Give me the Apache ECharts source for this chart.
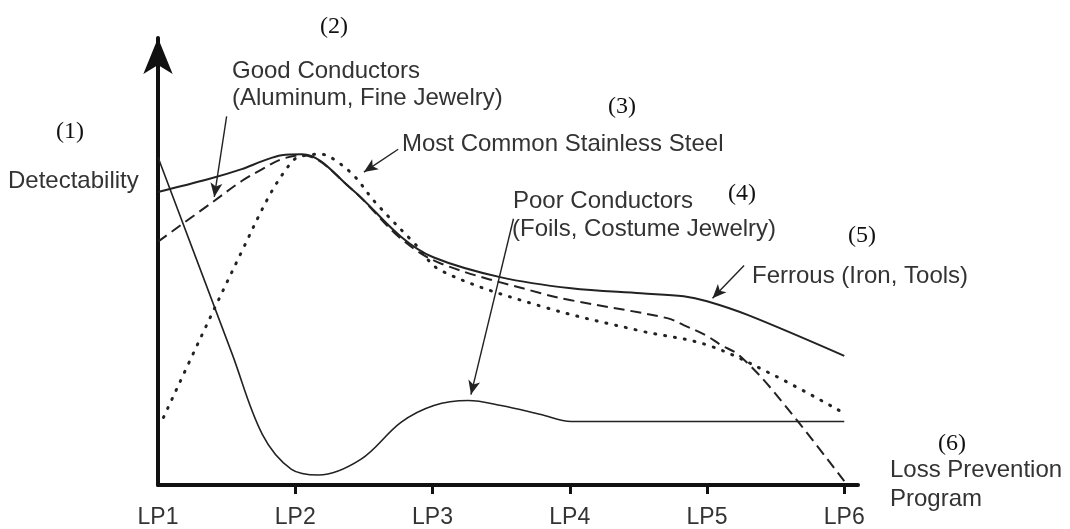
<!DOCTYPE html>
<html>
<head>
<meta charset="utf-8">
<script src="https://cdn.jsdelivr.net/npm/echarts@6/dist/echarts.min.js"></script>
<style>
  html, body { margin: 0; padding: 0; background: #fff; }
  #chart { width: 1070px; height: 529px; }
</style>
</head>
<body>
<div id="chart"></div>
<script>
// x: 0 = LP1 ... 5 = LP6, y: detectability (arbitrary units)
const tickLabels = ['LP1', 'LP2', 'LP3', 'LP4', 'LP5', 'LP6'];

const ferrous = [[0, 295], [0.37, 308], [0.61, 318], [0.76, 326], [0.9, 332], [1.05, 333], [1.41, 298],
    [1.77, 250], [2.01, 229], [2.5, 209], [3.01, 198], [3.52, 193], [3.83, 190], [4.0, 185], [4.3, 171], [5.0, 130]];
const goodConductors = [[0, 245], [0.39, 284], [0.61, 306], [0.76, 318], [0.9, 328], [1.05, 332],
    [1.41, 298], [1.77, 248], [2.06, 223], [2.79, 193], [3.01, 186], [3.71, 168], [3.83, 161], [4.0, 150],
    [4.1, 141], [4.23, 131], [4.48, 95], [5.0, 4]];
const stainless = [[0.04, 68], [0.32, 151], [0.61, 235], [0.81, 291], [0.95, 321], [1.02, 330], [1.19, 333],
    [1.28, 328], [1.43, 311], [1.58, 285], [1.87, 243], [2.06, 216], [2.79, 180], [3.52, 155], [4.0, 141],
    [4.48, 111], [4.99, 73]];
const poorConductors = [[0, 330], [0.54, 132], [0.76, 51], [0.97, 16], [1.17, 10], [1.48, 26], [1.77, 63],
    [2.01, 80], [2.26, 85], [2.5, 80], [2.79, 71], [3.01, 64], [5.0, 64]];

// annotation arrows: [from, to] in data units
const arrowGood = [[0.50, 371], [0.41, 290]];
const arrowStainless = [[1.75, 338], [1.50, 315]];
const arrowPoor = [[2.59, 268], [2.28, 91]];
const arrowFerrous = [[4.27, 221], [4.04, 188]];

const chart = echarts.init(document.getElementById('chart'));

const ink = '#222';
const sans = '"Liberation Sans", Arial, sans-serif';
const serif = '"Liberation Serif", "Times New Roman", serif';

function arrow(pair) {
    return {
        silent: true,
        symbol: ['none', 'arrow'],
        symbolSize: [9, 14],
        label: { show: false },
        lineStyle: { color: ink, width: 1.4, type: 'solid' },
        animation: false,
        data: [[{ coord: pair[0] }, { coord: pair[1] }]]
    };
}

function note(text, x, y, opts) {
    opts = opts || {};
    return {
        type: 'text',
        x: x,
        y: y,
        silent: true,
        style: {
            text: text,
            font: opts.font || ('24px ' + sans),
            fill: opts.fill || '#333',
            align: opts.align || 'left',
            verticalAlign: 'middle'
        }
    };
}

const num = { font: '24px ' + serif, fill: '#111', align: 'center' };

chart.setOption({
    backgroundColor: '#fff',
    animation: false,
    grid: { left: 158, right: 212, top: 38, bottom: 41 },
    xAxis: {
        type: 'value',
        min: 0,
        max: 5.1,
        interval: 1,
        splitLine: { show: false },
        axisLine: { lineStyle: { color: '#111', width: 4 } },
        axisTick: {
            customValues: [1, 2, 3, 4, 5],
            length: 9,
            lineStyle: { color: '#111', width: 3 }
        },
        axisLabel: {
            customValues: [0, 1, 2, 3, 4, 5],
            margin: 21,
            color: '#333',
            fontFamily: sans,
            fontSize: 23,
            formatter: v => tickLabels[Math.round(v)]
        },
        name: 'Loss Prevention\nProgram',
        nameLocation: 'end',
        nameGap: 32,
        nameTextStyle: {
            color: '#333',
            fontFamily: sans,
            fontSize: 24,
            lineHeight: 29,
            align: 'left',
            verticalAlign: 'middle',
            padding: [6, 0, 0, 0]
        }
    },
    yAxis: {
        type: 'value',
        min: 0,
        max: 450,
        splitLine: { show: false },
        axisTick: { show: false },
        axisLabel: { show: false },
        axisLine: {
            show: true,
            symbol: ['none', 'arrow'],
            symbolSize: [22, 36],
            lineStyle: { color: '#111', width: 4 }
        }
    },
    series: [
        {
            name: 'Ferrous (Iron, Tools)',
            type: 'line',
            data: ferrous,
            smooth: 0.35,
            showSymbol: false,
            lineStyle: { color: ink, width: 2 },
            markLine: arrow(arrowFerrous)
        },
        {
            name: 'Good Conductors',
            type: 'line',
            data: goodConductors,
            smooth: 0.35,
            showSymbol: false,
            lineStyle: { color: ink, width: 2, type: [11, 6] },
            markLine: arrow(arrowGood)
        },
        {
            name: 'Most Common Stainless Steel',
            type: 'line',
            data: stainless,
            smooth: 0.35,
            showSymbol: false,
            lineStyle: { color: ink, width: 3, type: [1, 9], cap: 'round' },
            markLine: arrow(arrowStainless)
        },
        {
            name: 'Poor Conductors',
            type: 'line',
            data: poorConductors,
            smooth: 0.35,
            showSymbol: false,
            lineStyle: { color: ink, width: 1.6 },
            markLine: arrow(arrowPoor)
        }
    ],
    graphic: [
        note('(1)', 70, 132, num),
        note('Detectability', 8, 181),
        note('(2)', 334, 27, num),
        note('Good Conductors', 232, 71),
        note('(Aluminum, Fine Jewelry)', 232, 98),
        note('(3)', 622, 107, num),
        note('Most Common Stainless Steel', 402, 144),
        note('(4)', 742, 194, num),
        note('Poor Conductors', 513, 201),
        note('(Foils, Costume Jewelry)', 512, 229),
        note('(5)', 862, 236, num),
        note('Ferrous (Iron, Tools)', 752, 276),
        note('(6)', 952, 444, num)
    ]
});
</script>
</body>
</html>
